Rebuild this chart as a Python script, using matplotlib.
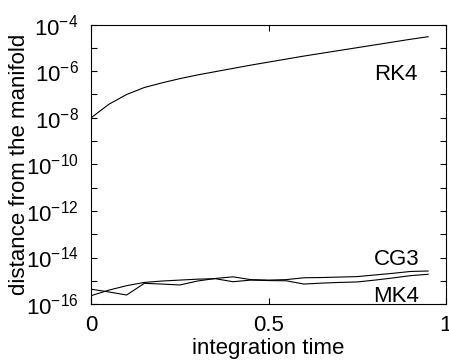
import numpy as np
import matplotlib
matplotlib.use("Agg")
import matplotlib.pyplot as plt

plt.rcParams['font.family'] = ['Liberation Sans', 'DejaVu Sans']
plt.rcParams['mathtext.fontset'] = 'custom'
plt.rcParams['mathtext.rm'] = 'Liberation Sans'
plt.rcParams['mathtext.it'] = 'Liberation Sans'

# integration time samples
t = [0.00, 0.05, 0.10, 0.15, 0.20, 0.25, 0.30, 0.35, 0.40, 0.45,
     0.50, 0.55, 0.60, 0.65, 0.70, 0.75, 0.80, 0.85, 0.90, 0.95]

# log10 of distance from the manifold
rk4_log = [-8.00, -7.42, -7.00, -6.70, -6.50, -6.32, -6.16, -6.02, -5.88, -5.74,
           -5.61, -5.48, -5.35, -5.23, -5.11, -4.99, -4.87, -4.75, -4.63, -4.52]
cg3_log = [-15.36, -15.48, -15.61, -15.11, -15.14, -15.18, -15.01, -14.90, -14.83, -14.95,
           -14.97, -14.95, -14.87, -14.86, -14.84, -14.82, -14.75, -14.68, -14.60, -14.58]
mk4_log = [-15.64, -15.40, -15.21, -15.07, -15.01, -14.97, -14.93, -14.91, -15.04, -14.97,
           -14.99, -15.00, -15.14, -15.10, -15.07, -15.05, -14.97, -14.88, -14.78, -14.72]

major_exp = [-16, -14, -12, -10, -8, -6, -4]
minor_exp = [-15, -13, -11, -9, -7, -5]

fig = plt.figure(figsize=(4.49, 3.62), dpi=100)
ax = fig.add_axes([0.203, 0.160, 0.790, 0.772])

for vals in (rk4_log, cg3_log, mk4_log):
    ax.plot(t, 10.0 ** np.array(vals), color='black', lw=0.8)

ax.set_yscale('log')
ax.set_ylim(1e-16, 1e-4)
ax.set_xlim(0, 1)
ax.set_yticks([10.0 ** e for e in major_exp])
ax.set_yticklabels([r'$10^{%d}$' % e for e in major_exp])
ax.set_yticks([10.0 ** e for e in minor_exp], minor=True)
ax.set_yticklabels([], minor=True)
ax.set_xticks([0, 0.5, 1])
ax.set_xticklabels(['0', '0.5', '1'])

ax.tick_params(which='both', direction='in', top=True, right=True,
               length=4, width=0.8, labelsize=16)
ax.tick_params(axis='y', pad=9)
ax.tick_params(axis='x', pad=8)
for s in ax.spines.values():
    s.set_linewidth(0.8)

ax.text(0.86, 4.1e-7, 'RK4', fontsize=16, ha='center', va='baseline')
ax.text(0.86, 4.7e-15, 'CG3', fontsize=16, ha='center', va='baseline')
ax.text(0.86, 1.26e-16, 'MK4', fontsize=16, ha='center', va='baseline')

ax.set_xlabel('integration time', fontsize=16, labelpad=1)
ax.set_ylabel('distance from the manifold', fontsize=16)
ax.yaxis.set_label_coords(-0.172, 0.5)

fig.savefig('out.png', dpi=100)
